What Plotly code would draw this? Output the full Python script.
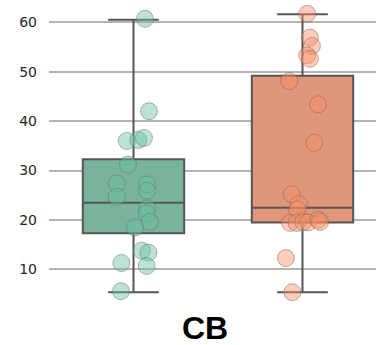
import plotly.graph_objects as go

# Values per group (category "CB", two groups)
green_vals = [60.7, 42.0, 36.0, 36.2, 36.6, 31.2, 27.4, 27.2, 25.9, 24.7,
              22.3, 21.3, 19.6, 18.5, 13.8, 13.4, 11.3, 10.7, 5.6]
orange_vals = [61.7, 56.9, 55.2, 53.3, 52.6, 48.1, 43.4, 35.6, 25.2, 23.2,
               22.1, 19.4, 19.4, 19.6, 19.5, 20.0, 19.6, 12.3, 5.4]

# Horizontal strip-plot jitter (category units)
green_jitter = [0.068, 0.092, -0.040, 0.028, 0.062, -0.033, -0.099, 0.080, 0.080, -0.099,
                0.080, 0.078, 0.096, 0.009, 0.049, 0.088, -0.072, 0.078, -0.074]
orange_jitter = [0.028, 0.044, 0.056, 0.028, 0.044, -0.078, 0.092, 0.070, -0.064, -0.022,
                 -0.031, -0.074, -0.034, 0.005, 0.033, 0.093, 0.104, -0.098, -0.060]

# Box summary statistics: lower whisker, Q1, median, Q3, upper whisker
green_stats = [5.4, 17.3, 23.5, 32.3, 60.5]
orange_stats = [5.4, 19.5, 22.5, 49.2, 61.6]

x_title = "CB"
y_ticks = [10, 20, 30, 40, 50, 60]

groups = [
    (0, green_vals, green_jitter, green_stats, "#7ab39c", "rgba(102,194,165,0.45)"),
    (1, orange_vals, orange_jitter, orange_stats, "#df967a", "rgba(252,141,98,0.45)"),
]

fig = go.Figure()
for pos, vals, jit, st, box_col, pt_col in groups:
    fig.add_trace(go.Box(
        x=[pos], lowerfence=[st[0]], q1=[st[1]], median=[st[2]], q3=[st[3]], upperfence=[st[4]],
        width=0.6, whiskerwidth=0.5, boxpoints=False,
        fillcolor=box_col, line=dict(color="#555555", width=2),
        showlegend=False, hoverinfo="skip",
    ))
for pos, vals, jit, st, box_col, pt_col in groups:
    fig.add_trace(go.Scatter(
        x=[pos + j for j in jit], y=vals, mode="markers",
        marker=dict(size=17, color=pt_col, line=dict(color="rgba(110,110,110,0.5)", width=1)),
        showlegend=False,
    ))

fig.update_layout(
    width=376, height=345,
    margin=dict(l=49, r=0, t=0, b=39),
    plot_bgcolor="white", paper_bgcolor="white",
    font=dict(family="DejaVu Sans", color="#262626"),
)
# Axis label drawn as an annotation centred under the full category span
fig.add_annotation(
    text=f"<b>{x_title}</b>", xref="paper", yref="paper", x=0.477, y=-0.072,
    xanchor="center", yanchor="middle", showarrow=False,
    font=dict(family="Liberation Sans", size=32, color="black"),
)
fig.update_xaxes(
    range=[-0.5, 1.435], showgrid=False, showticklabels=False, zeroline=False,
    showline=False, ticks="",
)
fig.update_yaxes(
    range=[2.6, 64.5], tickvals=y_ticks, showgrid=True, gridcolor="#b3b3b3", gridwidth=1.5,
    zeroline=False, showline=False, ticks="", ticklabelstandoff=11,
    tickfont=dict(size=14, color="#262626"),
)

fig.write_html("out.html")
